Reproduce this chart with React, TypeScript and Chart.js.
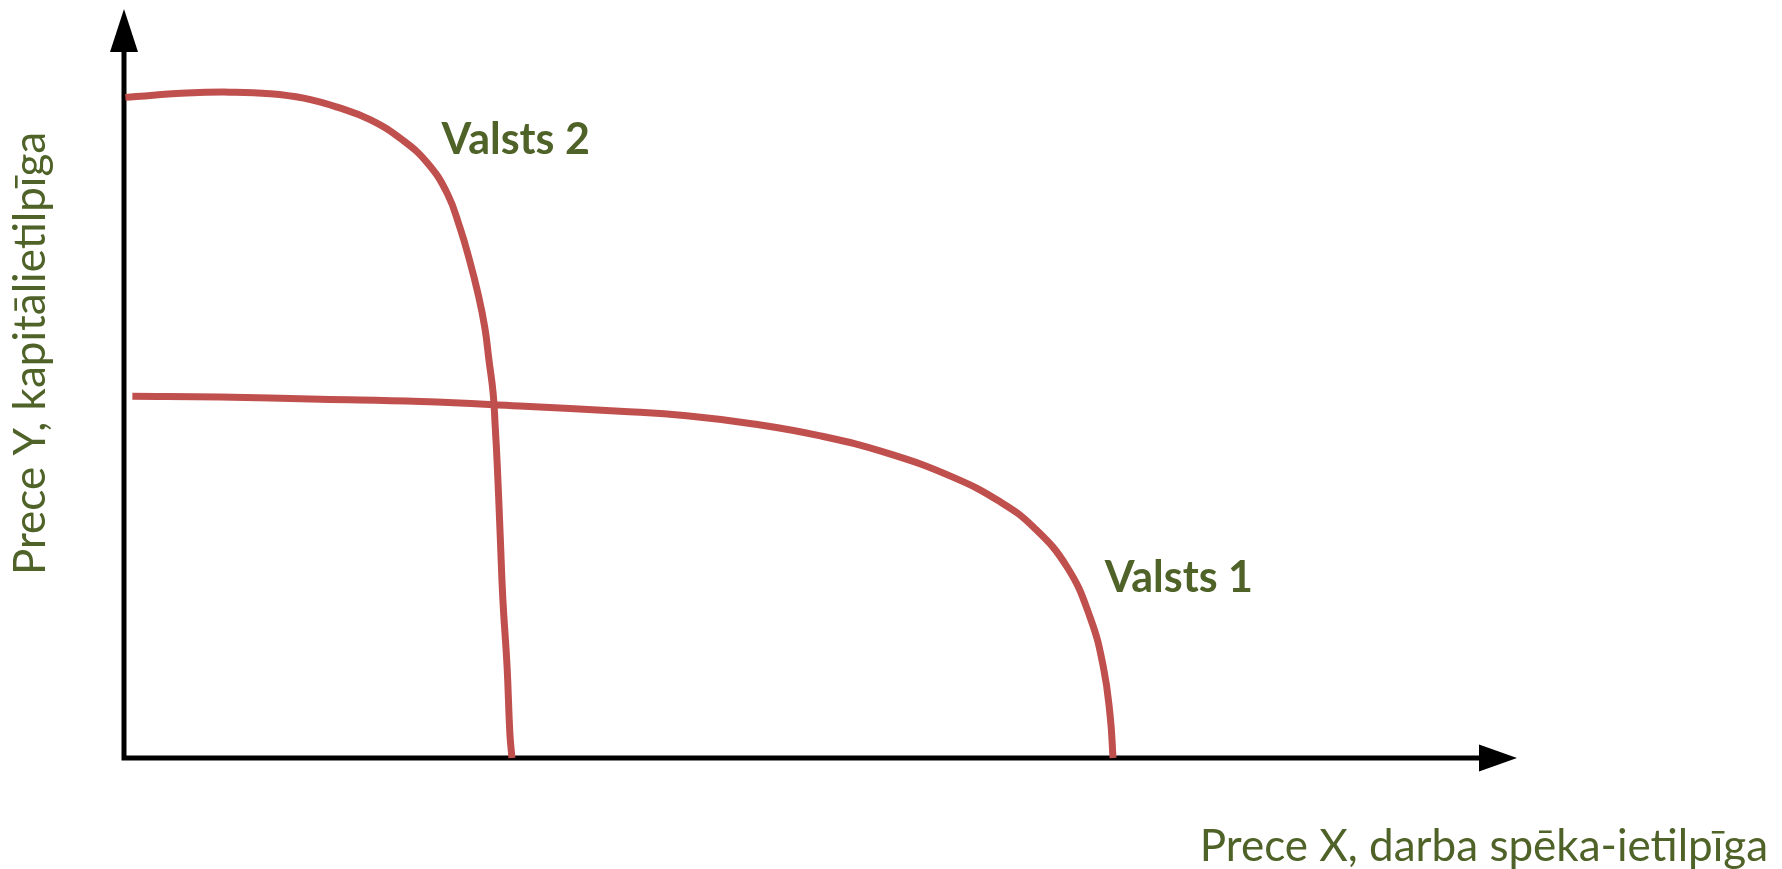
import React, { useEffect, useRef } from "react";
import { Chart, registerables } from "chart.js";

Chart.register(...registerables);

// Valsts 2 (capital-intensive country) production possibility frontier
const valsts2X = [0.1, 2.1, 4.5, 7.6, 10.5, 12.9, 15.3, 17.7, 20.0, 21.8, 23.2, 24.1, 24.8, 25.4, 25.9, 26.2, 26.5, 26.65, 26.8, 27.0, 27.2, 27.5, 27.7, 27.85];
const valsts2Y = [88.2, 88.5, 88.8, 88.9, 88.7, 88.1, 86.9, 85.2, 82.5, 79.4, 75.4, 70.9, 66.5, 62.1, 57.5, 53.1, 48.7, 44.2, 38.9, 30.0, 21.1, 12.2, 3.3, 0];

// Valsts 1 (labour-intensive country) production possibility frontier
const valsts1X = [0.6, 6.9, 14.1, 21.3, 28.4, 35.6, 40.4, 45.2, 50.0, 54.8, 59.5, 62.9, 65.3, 67.7, 69.35, 70.3, 70.8, 71.0];
const valsts1Y = [48.3, 48.2, 47.9, 47.6, 47.0, 46.3, 45.7, 44.6, 43.0, 40.7, 37.5, 34.2, 30.8, 25.5, 18.8, 12.2, 5.5, 0];

const seriesNames = ["Valsts 2", "Valsts 1"];
const xAxisTitle = "Prece X, darba spēka-ietilpīga";
const yAxisTitle = "Prece Y, kapitālietilpīga";

const RED = "#C0504D";
const GREEN = "#4F6228";
const FONT = "Lato";

const toPoints = (xs: number[], ys: number[]) => xs.map((x, i) => ({ x, y: ys[i] }));

const decorPlugin = {
  id: "decor",
  beforeDatasetsDraw(chart: any) {
    const { ctx, chartArea } = chart;
    const { left, right, top, bottom } = chartArea;
    ctx.save();
    ctx.strokeStyle = "#000";
    ctx.fillStyle = "#000";
    ctx.lineWidth = 5;
    ctx.beginPath();
    ctx.moveTo(left, bottom + 2.5);
    ctx.lineTo(left, top + 40);
    ctx.moveTo(left - 2.5, bottom);
    ctx.lineTo(right - 36, bottom);
    ctx.stroke();
    // y arrow head
    ctx.beginPath();
    ctx.moveTo(left, top);
    ctx.lineTo(left - 14, top + 43);
    ctx.lineTo(left + 14, top + 43);
    ctx.closePath();
    ctx.fill();
    // x arrow head
    ctx.beginPath();
    ctx.moveTo(right, bottom);
    ctx.lineTo(right - 38, bottom - 13.5);
    ctx.lineTo(right - 38, bottom + 13.5);
    ctx.closePath();
    ctx.fill();
    ctx.restore();
  },
  afterDatasetsDraw(chart: any) {
    const { ctx, chartArea, scales } = chart;
    const { left, right, bottom } = chartArea;
    const xs = scales.x;
    const ys = scales.y;
    ctx.save();
    ctx.fillStyle = GREEN;
    ctx.textBaseline = "alphabetic";
    ctx.textAlign = "left";
    ctx.font = `bold 43px ${FONT}`;
    ctx.fillText(seriesNames[0], xs.getPixelForValue(22.8), ys.getPixelForValue(80.6));
    ctx.fillText(seriesNames[1], xs.getPixelForValue(70.4), ys.getPixelForValue(22.2));

    ctx.font = `44px ${FONT}`;
    ctx.textAlign = "right";
    ctx.fillText(xAxisTitle, right + 251, bottom + 103);

    ctx.save();
    ctx.translate(left - 79, bottom - 183);
    ctx.rotate(-Math.PI / 2);
    ctx.textAlign = "left";
    ctx.fillText(yAxisTitle, 0, 0);
    ctx.restore();
    ctx.restore();
  },
};

export default function App() {
  const ref = useRef<HTMLCanvasElement | null>(null);
  useEffect(() => {
    if (!ref.current) return;
    const lineStyle = {
      showLine: true,
      borderColor: RED,
      borderWidth: 7,
      pointRadius: 0,
      tension: 0.45,
      clip: false,
      borderCapStyle: "butt",
      borderJoinStyle: "round",
    };
    const chart = new Chart(ref.current, {
      type: "scatter",
      data: {
        datasets: [
          { label: seriesNames[0], data: toPoints(valsts2X, valsts2Y), ...lineStyle } as any,
          { label: seriesNames[1], data: toPoints(valsts1X, valsts1Y), ...lineStyle } as any,
        ],
      },
      options: {
        animation: false,
        responsive: false,
        layout: { padding: { left: 124, top: 9, right: 265, bottom: 111 } },
        plugins: { legend: { display: false }, tooltip: { enabled: false } },
        scales: {
          x: { type: "linear", min: 0, max: 100, display: false },
          y: { type: "linear", min: 0, max: 100, display: false },
        },
      },
      plugins: [decorPlugin],
    });
    return () => chart.destroy();
  }, []);
  return (
    <div style={{ position: "absolute", left: 0, top: 0, width: 1782, height: 869, background: "#fff" }}>
      <canvas ref={ref} width={1782} height={869} style={{ display: "block" }} />
    </div>
  );
}
